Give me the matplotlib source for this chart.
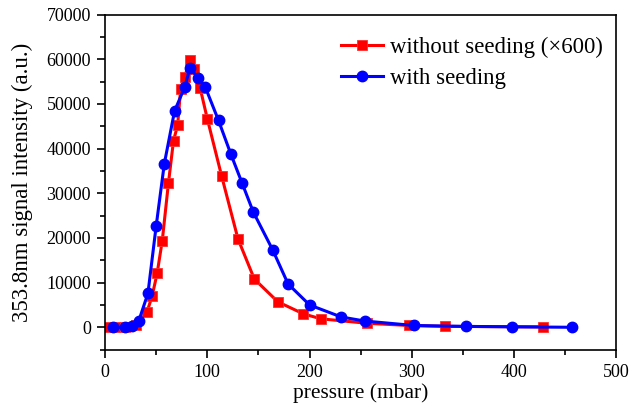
import numpy as np
import matplotlib.pyplot as plt

# without seeding (x600)
p_red = [0, 10, 20, 30, 41, 46, 51, 56, 62, 67, 71, 74, 78, 83, 87, 93, 100,
         114, 130, 146, 169, 194, 211, 256, 297, 332, 428]
s_red = [0, 0, 0, 400, 3400, 6900, 12100, 19400, 32200, 41800, 45200, 53400,
         56100, 59800, 57900, 53600, 46700, 33900, 19800, 10800, 5700, 3000,
         1900, 900, 400, 200, 100]

# with seeding
p_blue = [8, 20, 26, 33, 42, 50, 58, 68, 78, 83, 91, 98, 111, 123, 134, 145,
          164, 179, 200, 231, 254, 302, 353, 398, 457]
s_blue = [0, 0, 200, 1400, 7600, 22600, 36600, 48400, 53800, 58000, 55900,
          53800, 46300, 38800, 32300, 25800, 17300, 9700, 5000, 2300, 1400,
          400, 200, 100, 0]

plt.rcParams['font.family'] = ['Liberation Serif', 'DejaVu Serif']

fig = plt.figure(figsize=(6.32, 4.08), dpi=100)
ax = fig.add_axes([0.1661, 0.1431, 0.8093, 0.8211])

ax.plot(p_red, s_red, color='#ff0000', lw=2.2, marker='s', ms=6.5,
        mec='#ff3030', mew=0.6, label='without seeding (×600)', zorder=2)
ax.plot(p_blue, s_blue, color='#0000ff', lw=2.2, marker='o', ms=7.5,
        mec='#0000ff', label='with seeding', zorder=3)

ax.set_xlim(0, 500)
ax.set_ylim(-5000, 70000)
ax.set_xticks(np.arange(0, 501, 100))
ax.set_xticks(np.arange(0, 501, 50), minor=True)
ax.set_yticks(np.arange(0, 70001, 10000))
ax.set_yticks(np.arange(-5000, 70001, 5000), minor=True)
ax.tick_params(which='major', direction='out', length=6, width=1.2,
               labelsize=13, pad=4)
ax.tick_params(which='minor', direction='out', length=3.5, width=1.2)
for s in ax.spines.values():
    s.set_linewidth(1.2)

ax.set_xlabel('pressure (mbar)', fontsize=15.4, labelpad=2)
ax.set_ylabel('353.8nm signal intensity (a.u.)', fontsize=16.5, labelpad=10)

ax.legend(loc='upper right', bbox_to_anchor=(1, 0.975), frameon=False,
          fontsize=16.4, handlelength=1.85, handletextpad=0.3,
          labelspacing=0.45, borderaxespad=0.2)

fig.savefig('out.png', dpi=100)
